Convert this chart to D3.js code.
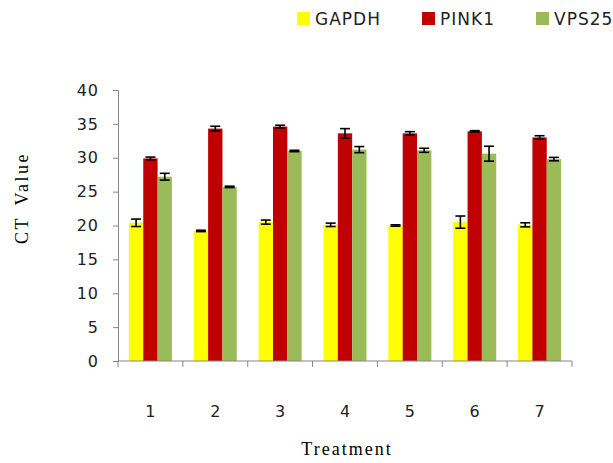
<!DOCTYPE html>
<html>
<head>
<meta charset="utf-8">
<script src="https://cdn.jsdelivr.net/npm/d3@7"></script>
<style>
  body { margin: 0; background: #fff; }
  svg { display: block; }
</style>
</head>
<body>
<svg id="chart" width="613" height="463"></svg>
<script>
// data
const treatments = ['1', '2', '3', '4', '5', '6', '7'];
const genes = ['GAPDH', 'PINK1', 'VPS25'];
const colors = ['#ffff00', '#c00000', '#9bbb59'];
const gapdh = [20.4, 19.2, 20.5, 20.1, 20.0, 20.5, 20.1];
const pink1 = [29.9, 34.3, 34.6, 33.6, 33.6, 33.9, 33.0];
const vps25 = [27.2, 25.7, 31.0, 31.2, 31.1, 30.6, 29.8];
const gapdhErr = [0.55, 0.1, 0.3, 0.25, 0.1, 0.9, 0.3];
const pink1Err = [0.2, 0.35, 0.2, 0.7, 0.25, 0.1, 0.25];
const vps25Err = [0.5, 0.1, 0.1, 0.45, 0.3, 1.1, 0.25];
const yTicks = [0, 5, 10, 15, 20, 25, 30, 35, 40];

const values = [gapdh, pink1, vps25];
const errs = [gapdhErr, pink1Err, vps25Err];

const svg = d3.select('#chart');
const margin = {left: 118, right: 41, top: 90, bottom: 102};
const w = 613 - margin.left - margin.right;
const h = 463 - margin.top - margin.bottom;

const g = svg.append('g').attr('transform', `translate(${margin.left},${margin.top})`);

const x = d3.scaleBand().domain(treatments).range([0, w]);
const x1 = d3.scaleBand().domain(genes).range([0, 43]);
const y = d3.scaleLinear().domain([0, 40]).range([h, 0]);

// bars
genes.forEach((gene, k) => {
  const off = (x.bandwidth() - 43) / 2 + x1(gene);
  g.append('g').selectAll('rect')
    .data(values[k])
    .enter()
    .append('rect')
    .attr('x', (d, i) => x(treatments[i]) + off)
    .attr('y', d => y(d))
    .attr('width', x1.bandwidth())
    .attr('height', d => h - y(d))
    .attr('fill', colors[k]);

  // error bars
  const eb = g.append('g').attr('stroke', '#000').attr('stroke-width', 1.6);
  values[k].forEach((v, i) => {
    const cx = x(treatments[i]) + off + x1.bandwidth() / 2;
    const e = errs[k][i];
    eb.append('line').attr('x1', cx).attr('x2', cx).attr('y1', y(v + e)).attr('y2', y(v - e));
    eb.append('line').attr('x1', cx - 5).attr('x2', cx + 5).attr('y1', y(v + e)).attr('y2', y(v + e));
    eb.append('line').attr('x1', cx - 5).attr('x2', cx + 5).attr('y1', y(v - e)).attr('y2', y(v - e));
  });
});

// y axis
const yAxis = g.append('g')
  .call(d3.axisLeft(y).tickValues(yTicks).tickSize(5).tickPadding(14));
yAxis.select('.domain').attr('stroke', '#868686');
yAxis.selectAll('.tick line').attr('stroke', '#868686');
yAxis.selectAll('text')
  .attr('font-family', 'DejaVu Sans').attr('font-size', 16)
  .attr('letter-spacing', 1).attr('fill', '#222');

// x axis, ticks at category boundaries
const xAxis = g.append('g').attr('transform', `translate(0,${h})`);
xAxis.append('line').attr('x1', 0).attr('x2', w).attr('stroke', '#868686');
xAxis.selectAll('line.tk')
  .data(d3.range(treatments.length + 1))
  .enter()
  .append('line')
  .attr('class', 'tk')
  .attr('x1', i => i * x.step())
  .attr('x2', i => i * x.step())
  .attr('y1', 0).attr('y2', 6)
  .attr('stroke', '#868686');
xAxis.selectAll('text')
  .data(treatments)
  .enter()
  .append('text')
  .attr('x', d => x(d) + x.bandwidth() / 2)
  .attr('y', 56)
  .attr('text-anchor', 'middle')
  .attr('font-family', 'DejaVu Sans')
  .attr('font-size', 16)
  .attr('fill', '#222')
  .text(d => d);

// axis titles
svg.append('text')
  .attr('x', 347).attr('y', 455)
  .attr('text-anchor', 'middle')
  .attr('font-family', 'Liberation Serif')
  .attr('font-size', 18)
  .attr('letter-spacing', 2)
  .text('Treatment');
svg.append('text')
  .attr('transform', 'translate(28,198) rotate(-90)')
  .attr('text-anchor', 'middle')
  .attr('font-family', 'Liberation Serif')
  .attr('font-size', 18)
  .attr('letter-spacing', 2.5)
  .attr('word-spacing', 4)
  .text('CT Value');

// legend
const legX = [297, 422, 536];
genes.forEach((gene, k) => {
  svg.append('rect').attr('x', legX[k]).attr('y', 12).attr('width', 13).attr('height', 13).attr('fill', colors[k]);
  svg.append('text')
    .attr('x', legX[k] + 18).attr('y', 25)
    .attr('font-family', 'DejaVu Sans')
    .attr('font-size', 17)
    .attr('letter-spacing', 1)
    .attr('fill', '#222')
    .text(gene);
});
</script>
</body>
</html>
